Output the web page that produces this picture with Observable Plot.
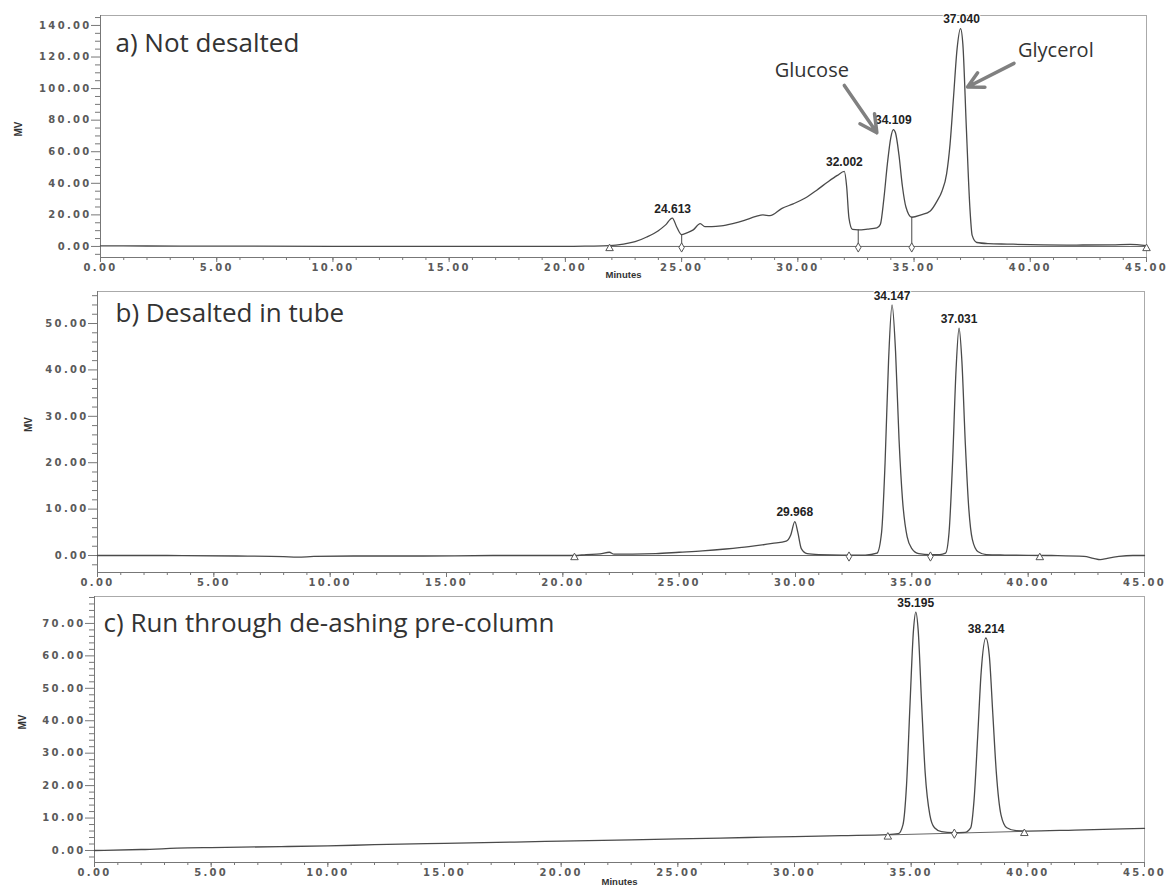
<!DOCTYPE html>
<html><head><meta charset="utf-8">
<script src="https://cdn.jsdelivr.net/npm/d3@7"></script>
<script src="https://cdn.jsdelivr.net/npm/@observablehq/plot@0.6"></script>
<style>
body{margin:0;background:#fff;width:1168px;height:889px;position:relative;overflow:hidden}
.panel{position:absolute;left:0}
.panel svg{overflow:visible}
g[aria-label="x-axis tick label"] text, g[aria-label="y-axis tick label"] text{letter-spacing:2.3px}
</style></head><body>
<div id="pa" class="panel" style="top:0"></div>
<div id="pb" class="panel" style="top:282px"></div>
<div id="pc" class="panel" style="top:590px"></div>
<script>
// ---------- data ----------
const xMajor = [0,5,10,15,20,25,30,35,40,45];

// a) Not desalted
const titleA = "a) Not desalted";
const timeA = [0,2,5,10,15,18,20,21,21.9,22.5,23,23.5,24,24.3,24.6,24.8,25.0,25.2,25.5,25.8,26.0,26.3,26.7,27.2,27.7,28.2,28.5,28.8,29.3,29.8,30.3,30.8,31.3,31.7,32.0,32.1,32.2,32.35,32.6,33.0,33.4,33.55,33.7,33.85,34.0,34.11,34.2,34.35,34.5,34.65,34.9,35.3,35.7,36.0,36.2,36.4,36.55,36.7,36.85,37.0,37.1,37.25,37.4,37.5,37.7,38.2,39,40,42,43.5,44.3,45];
const signalA = [0.4,0.3,0.2,0.1,0,0,0,0.2,0.5,1.5,3,6,10,13.5,18,12,7.5,8.5,10.5,14.5,12.5,12.5,13,14.5,16.5,19,20,19.5,24,27,30.5,35.5,41,45,47.5,38,18,10.8,10.5,11,11.8,14,30,52,69,74,72,58,38,25,18.5,20,22.5,29,35,46,65,95,125,138,128,75,25,7,2.5,1.8,1.5,1.2,0.9,1.0,1.3,0.5];
const peakTimeA = [24.613, 32.002, 34.109, 37.040];
const peakValA = [18, 47.5, 74, 138];
const yMajorA = [0,20,40,60,80,100,120,140];
const yMinorA = [-5,5,10,15,25,30,35,45,50,55,65,70,75,85,90,95,105,110,115,125,130,135,145];
const triTimeA = [21.9, 45];
const triValA = [0, 0];
const dropTimeA = [25.0, 32.6, 34.9];
const dropValA = [7.5, 10.5, 18.5];
const annoLabels = ["Glucose", "Glycerol"];
const annoTextX = [30.6, 41.1];
const annoTextY = [111.5, 124];
const arrowFromX = [32.0, 39.3];
const arrowFromY = [102, 116];
const arrowToX = [33.4, 37.3];
const arrowToY = [72, 101];

// b) Desalted in tube
const titleB = "b) Desalted in tube";
const timeB = [0,3,6,8,8.6,9.3,11,14,17,20,20.5,21,21.6,22.0,22.2,22.5,23,24,25,26,27,28,29,29.6,29.8,29.97,30.1,30.25,30.5,31,32,33,33.5,33.7,33.85,34.0,34.15,34.3,34.45,34.6,34.8,35.0,35.3,35.8,36.2,36.45,36.6,36.75,36.9,37.03,37.15,37.3,37.45,37.6,37.85,38.2,39,41,42.4,42.8,43.1,43.4,43.9,44.5,45];
const signalB = [0,0,-0.1,-0.25,-0.35,-0.2,-0.1,-0.1,0,0,0,0.2,0.35,0.7,0.3,0.3,0.3,0.4,0.7,1.0,1.4,1.9,2.6,3.1,4.5,7.3,5,1.5,0.4,0.2,0.1,0.1,0.5,5,20,42,54,44,25,12,4,1.5,0.4,0.2,0.2,0.5,5,20,40,49,42,24,10,3.5,0.8,0.2,0.1,0,-0.2,-0.6,-0.9,-0.6,-0.2,0,0];
const peakTimeB = [29.968, 34.147, 37.031];
const peakValB = [7.3, 54, 49];
const yMajorB = [0,10,20,30,40,50];
const yMinorB = [-2,2,4,6,8,12,14,16,18,22,24,26,28,32,34,36,38,42,44,46,48,52,54,56];
const triTimeB = [20.5, 40.5];
const triValB = [0, 0];
const dropTimeB = [32.3, 35.8];
const dropValB = [0, 0];

// c) Run through de-ashing pre-column
const titleC = "c) Run through de-ashing pre-column";
const timeC = [0,2,4,5,8,10,12,15,18,20,23,25,28,30,32,34,34.45,34.65,34.8,34.95,35.1,35.2,35.3,35.45,35.6,35.8,36.0,36.3,36.8,37.3,37.55,37.7,37.85,38.0,38.2,38.35,38.5,38.65,38.85,39.1,39.5,40,42,45];
const signalC = [0,0.3,0.8,0.9,1.2,1.4,1.8,2.2,2.6,2.9,3.3,3.6,4.0,4.3,4.6,4.9,5.2,8,20,45,68,73.5,68,45,24,11,7,5.8,5.5,5.6,7,16,35,55,65.5,60,42,24,11,7,6.1,6.0,6.3,6.8];
const peakTimeC = [35.195, 38.214];
const peakValC = [73.5, 65.5];
const yMajorC = [0,10,20,30,40,50,60,70];
const yMinorC = [-2,2,4,6,8,12,14,16,18,22,24,26,28,32,34,36,38,42,44,46,48,52,54,56,58,62,64,66,68,72,74,76,78];
const triTimeC = [34.0, 39.85];
const triValC = [4.8, 5.9];
const dropTimeC = [36.85];
const dropValC = [5.5];

// ---------- drawing ----------
const fmt2 = d3.format(".2f"), fmt3 = d3.format(".3f");
const zip = (xs, ys) => xs.map((x, i) => ({x, y: ys[i]}));

function build(c) {
  const trace = zip(c.time, c.signal);
  const peaks = zip(c.peakTime, c.peakVal);
  const tris = zip(c.triTime, c.triVal);
  const circs = zip(c.dropTime, c.dropVal);
  const y0 = c.yDomain[0];
  const marks = [
    Plot.frame({stroke: "#aaa"}),
    Plot.ruleX([0], {stroke: "#777"}),
    Plot.ruleY([y0], {stroke: "#777"}),
    Plot.axisY({ticks: c.yMinor, tickSize: 5, tickFormat: () => "", label: null, stroke: "#777"}),
    Plot.axisY({ticks: c.yMajor, tickSize: 9, tickPadding: 0, tickFormat: fmt2, label: null, stroke: "#777", fontWeight: "bold"}),
    Plot.axisX({ticks: d3.range(0, 46, 1), tickSize: 3, tickFormat: () => "", label: null, stroke: "#777"}),
    Plot.axisX({ticks: xMajor, tickSize: 5, tickPadding: 1, tickFormat: fmt2, label: null, stroke: "#777", fontWeight: "bold"}),
    // integration baseline
    Plot.line(tris, {x: "x", y: "y", stroke: "#666", strokeWidth: 1}),
    // drop lines
    c.drops ? Plot.ruleX(circs, {x: "x", y1: 0, y2: (d, i) => c.dropTop[i], stroke: "#666", strokeWidth: 1.2}) : null,
    // trace
    Plot.line(trace, {x: "x", y: "y", curve: "monotone-x", stroke: "#4a4a4a", strokeWidth: 1.3}),
    Plot.dot(tris, {x: "x", y: "y", symbol: "triangle", r: 2.8, stroke: "#555", fill: "white", strokeWidth: 1, dy: 2}),
    Plot.dot(circs, {x: "x", y: "y", symbol: "diamond", r: 2.8, stroke: "#555", fill: "white", strokeWidth: 1, dy: 1}),
    Plot.text(peaks, {x: "x", y: "y", text: d => fmt3(d.x), dy: -9, fontWeight: "bold", fontSize: 12, fontFamily: "'Liberation Sans', Arial, sans-serif", fill: "#222", stroke: "white", strokeWidth: 2, paintOrder: "stroke"}),
    Plot.text([c.title], {frameAnchor: "top-left", textAnchor: "start", lineAnchor: "middle", dx: c.tdx, dy: c.tdy, fontSize: 26, fontFamily: "'Open Sans', sans-serif", fill: "#333"}),
    Plot.text(["MV"], {frameAnchor: "left", rotate: -90, dx: c.mvdx, fontWeight: "bold", fontSize: 10, fontFamily: "'Liberation Sans', Arial, sans-serif", fill: "#333"}),
    c.minutes ? Plot.text(["Minutes"], {frameAnchor: "bottom", dy: c.minutes, fontWeight: "bold", fontSize: 9.5, fontFamily: "'Liberation Sans', Arial, sans-serif", fill: "#333"}) : null
  ];
  if (c.extra) marks.push(...c.extra);
  return Plot.plot({
    width: 1168, height: c.height,
    marginTop: c.mt, marginBottom: c.mb, marginLeft: c.ml, marginRight: c.mr,
    style: {fontFamily: "'DejaVu Sans', sans-serif", fontSize: "10px", color: "#5a5a5a", background: "transparent"},
    x: {domain: [0, 45]},
    y: {domain: c.yDomain},
    marks
  });
}

const annoRows = annoLabels.map((t, i) => ({t, tx: annoTextX[i], ty: annoTextY[i], x1: arrowFromX[i], y1: arrowFromY[i], x2: arrowToX[i], y2: arrowToY[i]}));

document.getElementById("pa").append(build({
  title: titleA, time: timeA, signal: signalA, peakTime: peakTimeA, peakVal: peakValA,
  yMajor: yMajorA, yMinor: yMinorA, triTime: triTimeA, triVal: triValA,
  dropTime: dropTimeA, dropVal: dropTimeA.map(() => 0), drops: true, dropTop: dropValA,
  yDomain: [-7, 146.3], height: 282, mt: 15, mb: 25, ml: 100, mr: 22,
  tdx: 15, tdy: 28, mvdx: -82, minutes: 20,
  extra: [
    Plot.arrow(annoRows, {x1: "x1", y1: "y1", x2: "x2", y2: "y2", stroke: "#808080", strokeWidth: 3.5, headLength: 11, headAngle: 55}),
    Plot.text(annoRows, {x: "tx", y: "ty", text: "t", fontSize: 20, fontFamily: "'Open Sans', sans-serif", fill: "#333"})
  ]
}));

document.getElementById("pb").append(build({
  title: titleB, time: timeB, signal: signalB, peakTime: peakTimeB, peakVal: peakValB,
  yMajor: yMajorB, yMinor: yMinorB, triTime: triTimeB, triVal: triValB,
  dropTime: dropTimeB, dropVal: dropValB, drops: false,
  yDomain: [-3.66, 56.9], height: 308, mt: 9, mb: 18, ml: 97, mr: 24,
  tdx: 18, tdy: 22, mvdx: -69, minutes: 0
}));

document.getElementById("pc").append(build({
  title: titleC, time: timeC, signal: signalC, peakTime: peakTimeC, peakVal: peakValC,
  yMajor: yMajorC, yMinor: yMinorC, triTime: triTimeC, triVal: triValC,
  dropTime: dropTimeC, dropVal: dropValC, drops: false,
  yDomain: [-3.7, 78.3], height: 299, mt: 6, mb: 27, ml: 94, mr: 24,
  tdx: 9, tdy: 27, mvdx: -72, minutes: 22
}));
</script>
</body></html>
